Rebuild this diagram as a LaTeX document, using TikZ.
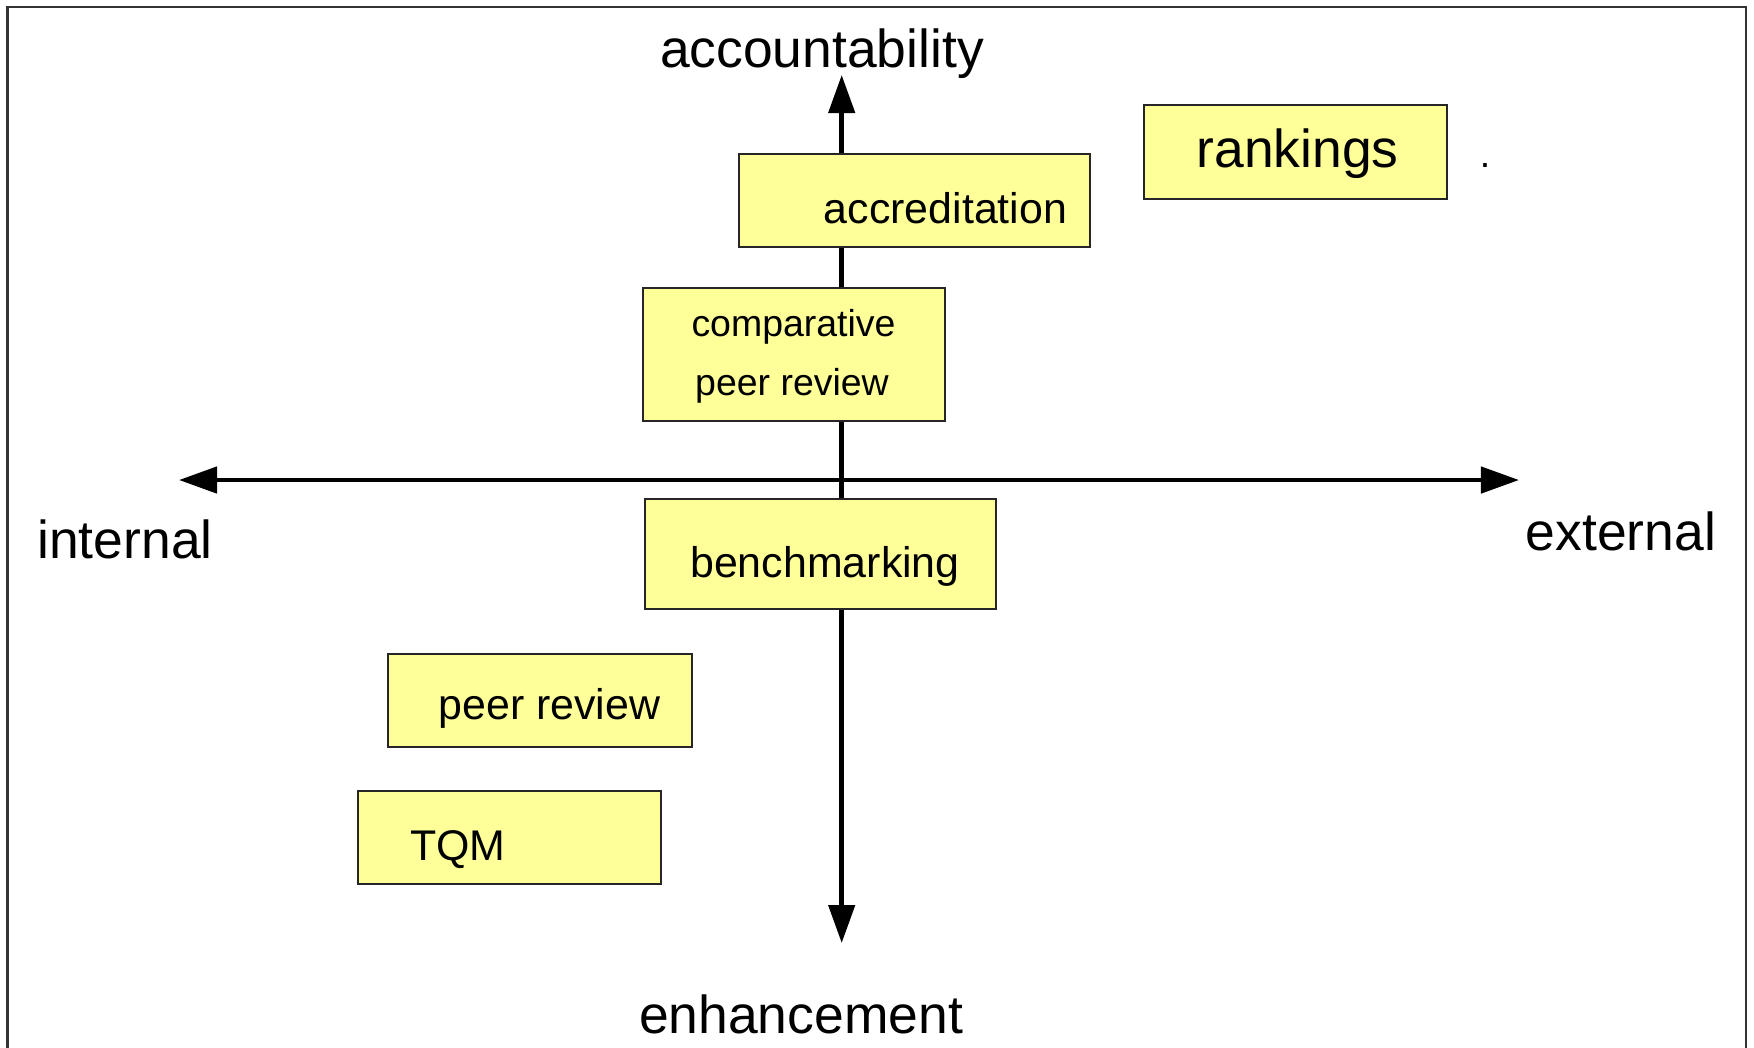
\documentclass[tikz,border=0pt]{standalone}
\usepackage{fontspec}
\setmainfont{Liberation Sans}
\usetikzlibrary{arrows.meta}

\definecolor{boxyellow}{RGB}{255,255,153}
\tikzset{
	box/.style={draw=black!85, line width=0.55pt, fill=boxyellow, inner sep=0pt},
	axis/.style={line width=1.3pt, {Triangle[length=3.8mm,width=2.6mm]}-{Triangle[length=3.8mm,width=2.6mm]}},
	bigtxt/.style={font=\fontsize{15.2}{18}\selectfont, anchor=base, inner sep=0pt},
	midtxt/.style={font=\fontsize{12.2}{14}\selectfont, anchor=base, inner sep=0pt},
	smalltxt/.style={font=\fontsize{10.65}{13}\selectfont, anchor=base, inner sep=0pt}
}

\begin{document}
\begin{tikzpicture}[x=0.01cm, y=-0.01cm]
	\useasboundingbox (0,0) rectangle (1754,1047);
	% open frame, its lower edge runs off the page
	\draw[line width=0.6pt, black!80] (7.5,1060) -- (7.5,7) -- (1746,7) -- (1746,1060);
	% the two axes
	\coordinate (north) at (841.7,75);
	\coordinate (south) at (841.7,943);
	\coordinate (west) at (179,480);
	\coordinate (east) at (1519,480);
	\draw[axis] (west) -- (east);
	\draw[axis] (south) -- (north);
	% boxes: name/left/top/right/bottom
	\foreach \nm/\xa/\ya/\xb/\yb in {rank/1144/105/1447/199, accr/739/154/1090/247, comp/643/288/945/421,
		bench/645/499/996/609, peer/388/654/692/747, tqm/358/791/661/884} {
		\node[box, minimum width={(\xb-\xa)*0.01cm}, minimum height={(\yb-\ya)*0.01cm}] (\nm) at ({(\xa+\xb)/2},{(\ya+\yb)/2}) {};
	}
	% axis ends
	\node[bigtxt] (acc) at (822,67) {accountability};
	\node[bigtxt] (enh) at (801,1033) {enhancement};
	\node[bigtxt] (int) at (125,558) {internal};
	\node[bigtxt] (ext) at (1621,550) {external};
	% box texts
	\node[bigtxt] (rank-t) at (1297.5,167) {rankings};
	\node[smalltxt] (dot) at (1485,167) {.};
	\node[midtxt] (accr-t) at (945.5,223) {accreditation};
	\node[smalltxt] (comp-t1) at (793.5,336) {comparative};
	\node[smalltxt] (comp-t2) at (792,395) {peer review};
	\node[midtxt] (bench-t) at (825,577) {benchmarking};
	\node[midtxt] (peer-t) at (549.5,719) {peer review};
	\node[midtxt] (tqm-t) at (458,860) {TQM};
\end{tikzpicture}
\end{document}
